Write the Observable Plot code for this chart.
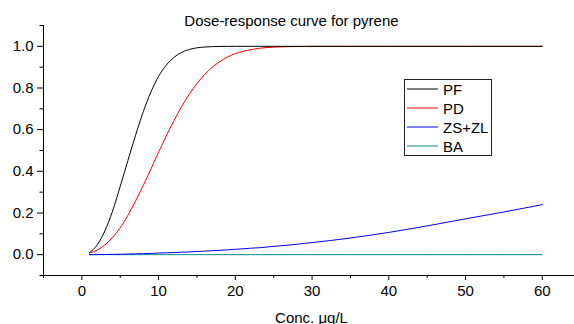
<!DOCTYPE html>
<html>
<head>
<meta charset="utf-8">
<script src="https://cdn.jsdelivr.net/npm/d3@7"></script>
<script src="https://cdn.jsdelivr.net/npm/@observablehq/plot@0.6"></script>
<style>
  html, body { margin: 0; padding: 0; background: #fff; }
  #chart svg { display: block; }
</style>
</head>
<body>
<div id="chart"></div>
<script>
// Concentration (µg/L) at which each response is sampled
const conc = [1, 2, 3, 4, 5, 6, 7, 8, 9, 10, 11, 12, 13, 14, 15, 16, 17, 18, 19, 20,
              21, 22, 23, 24, 25, 26, 27, 28, 29, 30, 35, 40, 45, 50, 55, 60];

// Fitted response for each species
const PF = [0.0096, 0.047, 0.114, 0.209, 0.328, 0.452, 0.573, 0.686, 0.781, 0.856, 0.910, 0.947, 0.971, 0.985, 0.9927, 0.9967, 0.9986, 0.9995, 0.9998, 1,
            1, 1, 1, 1, 1, 1, 1, 1, 1, 1, 1, 1, 1, 1, 1, 1];
const PD = [0.008, 0.022, 0.047, 0.083, 0.129, 0.189, 0.258, 0.332, 0.411, 0.492, 0.570, 0.643, 0.711, 0.770, 0.821, 0.865, 0.900, 0.927, 0.949, 0.965,
            0.976, 0.984, 0.990, 0.994, 0.996, 0.9975, 0.9985, 0.999, 0.9995, 1, 1, 1, 1, 1, 1, 1];
const ZSZL = [0.0, 0.0005, 0.001, 0.0015, 0.002, 0.003, 0.004, 0.005, 0.006, 0.008, 0.009, 0.010, 0.012, 0.013, 0.015, 0.017, 0.019, 0.021, 0.023, 0.026,
              0.028, 0.031, 0.033, 0.036, 0.040, 0.043, 0.046, 0.050, 0.054, 0.058, 0.080, 0.107, 0.138, 0.172, 0.205, 0.240];
const BA = [0, 0, 0, 0, 0, 0, 0, 0, 0, 0, 0, 0, 0, 0, 0, 0, 0, 0, 0, 0,
            0, 0, 0, 0, 0, 0, 0, 0, 0, 0, 0, 0, 0, 0, 0, 0];

const seriesNames = ["PF", "PD", "ZS+ZL", "BA"];
const seriesValues = [PF, PD, ZSZL, BA];
const seriesColors = ["#000000", "#ff0000", "#0000ff", "#008b8b"];

// Axis ticks
const xTicks = [0, 10, 20, 30, 40, 50, 60];
const xMinor = [-5, 5, 15, 25, 35, 45, 55];
const yTicks = [0, 0.2, 0.4, 0.6, 0.8, 1.0];
const yMinor = [-0.1, 0.1, 0.3, 0.5, 0.7, 0.9, 1.1];

const titleText = "Dose-response curve for pyrene";
const xLabel = "Conc. \u03bcg/L";

const font = "Arial, 'Liberation Sans', sans-serif";

const plot = Plot.plot({
  width: 574,
  height: 324,
  marginLeft: 43,
  marginRight: 0,
  marginTop: 25,
  marginBottom: 49,
  style: { fontFamily: font, fontSize: "15px", color: "#000", background: "#fff" },
  x: { domain: [-5, 64.2] },
  y: { domain: [-0.1, 1.1] },
  marks: [
    Plot.axisY({ ticks: yTicks, tickSize: 6, tickPadding: 4, tickFormat: d => d.toFixed(1), label: null }),
    Plot.axisY({ ticks: yMinor, tickSize: 3.5, tickFormat: () => "", label: null }),
    Plot.axisX({ ticks: xTicks, tickSize: 5, tickPadding: 5, label: null }),
    Plot.axisX({ ticks: xMinor, tickSize: 3, tickFormat: () => "", label: null }),
    Plot.ruleX([-5], { stroke: "#000" }),
    Plot.ruleY([-0.1], { stroke: "#000" }),
    // draw BA first so the other curves sit on top of it
    ...seriesValues.slice().reverse().map((vals, i) => {
      const k = seriesValues.length - 1 - i;
      return Plot.line(conc, { x: conc, y: vals, stroke: seriesColors[k], strokeWidth: 1, curve: "monotone-x" });
    })
  ]
});

document.getElementById("chart").appendChild(plot);

const svg = d3.select(plot);

// Title
svg.append("text")
  .attr("x", 291.5).attr("y", 25.5)
  .attr("text-anchor", "middle")
  .attr("font-family", font).attr("font-size", 15)
  .attr("fill", "#000")
  .text(titleText);

// X axis title
svg.append("text")
  .attr("x", 311.5).attr("y", 322.5)
  .attr("text-anchor", "middle")
  .attr("font-family", font).attr("font-size", 15)
  .attr("fill", "#000")
  .text(xLabel);

// Legend box
const lg = svg.append("g")
  .attr("font-family", font).attr("font-size", 15)
  .attr("text-anchor", "start");
lg.append("rect")
  .attr("x", 404.5).attr("y", 79.5).attr("width", 87).attr("height", 76)
  .attr("fill", "#fff").attr("stroke", "#222").attr("stroke-width", 1);
seriesNames.forEach((name, i) => {
  const cy = 89 + i * 19;
  lg.append("line")
    .attr("x1", 407).attr("x2", 438).attr("y1", cy).attr("y2", cy)
    .attr("stroke", seriesColors[i]).attr("stroke-width", 1);
  lg.append("text")
    .attr("x", 443).attr("y", cy + 5.5)
    .attr("text-anchor", "start")
    .attr("fill", "#000")
    .text(name);
});
</script>
</body>
</html>
